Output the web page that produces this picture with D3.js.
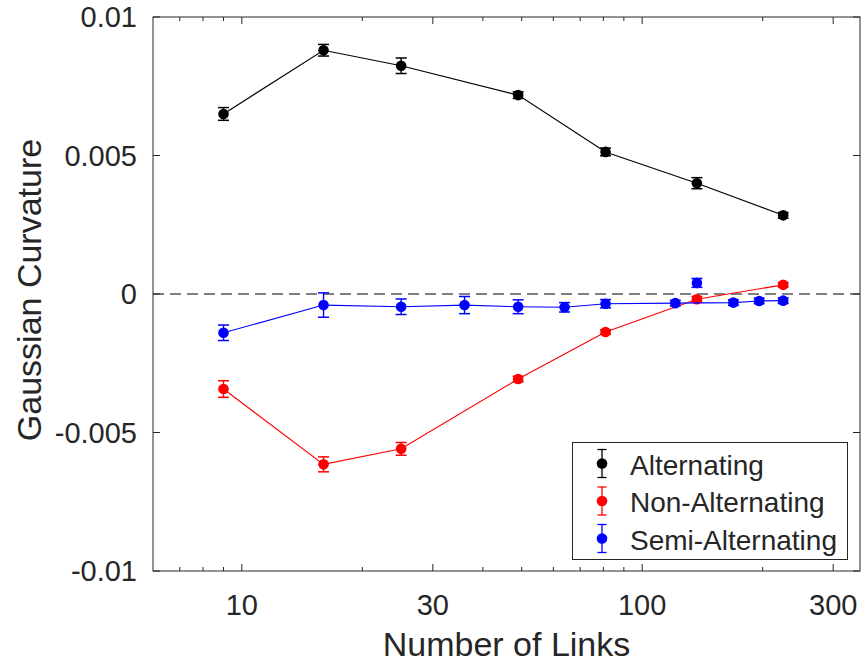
<!DOCTYPE html>
<html>
<head>
<meta charset="utf-8">
<script src="https://cdn.jsdelivr.net/npm/d3@7"></script>
<style>
  body { margin: 0; background: #fff; }
  text { font-family: "Liberation Sans", Arial, Helvetica, sans-serif; fill: #262626; }
</style>
</head>
<body>
<script>
// values
var linksA = [9, 16, 25, 49, 81, 137, 225];
var alt = [0.0065, 0.0088, 0.00824, 0.00718, 0.00513, 0.0040, 0.00284];
var altErr = [0.00023, 0.00021, 0.00028, 0.00012, 0.00014, 0.0002, 0.0001];
var nonAlt = [-0.00343, -0.00615, -0.00559, -0.00307, -0.00137, -0.00019, 0.00033];
var nonAltErr = [0.0003, 0.00027, 0.00023, 0.0001, 0.00008, 0.0001, 0.00008];
var linksS = [9, 16, 25, 36, 49, 64, 81, 121, 169, 196, 225];
var semi = [-0.0014, -0.0004, -0.00046, -0.0004, -0.00046, -0.00048, -0.00035, -0.00033, -0.00031, -0.00025, -0.00024];
var semiErr = [0.00028, 0.00044, 0.00028, 0.00031, 0.00025, 0.00017, 0.00015, 0.0001, 0.0001, 0.0001, 0.0001];
// lone semi-alternating point, not joined to the line
var linksSx = [137];
var semiX = [0.0004];
var semiXErr = [0.00016];

var xTicks = [10, 30, 100, 300];
var xMinor = [7, 8, 9, 20, 40, 50, 60, 70, 80, 90, 200];
var yTicks = [-0.01, -0.005, 0, 0.005, 0.01];
var yTickLabels = ["-0.01", "-0.005", "0", "0.005", "0.01"];
var names = ["Alternating", "Non-Alternating", "Semi-Alternating"];
var colors = ["#000000", "#ff0000", "#0000ff"];

var W = 861, H = 664;
var pL = 153, pR = 860, pT = 17, pB = 571;
var axisColor = "#262626";

var svg = d3.select("body").append("svg")
	.attr("width", W)
	.attr("height", H);

var x = d3.scaleLog().domain([6, 350]).range([pL, pR]);
var y = d3.scaleLinear().domain([-0.01, 0.01]).range([pB, pT]);

function zip(xs, ys, es) {
	return xs.map((v, i) => ({x: v, y: ys[i], e: es[i]}));
}
var series = [
	{pts: zip(linksA, alt, altErr), color: colors[0], line: true},
	{pts: zip(linksA, nonAlt, nonAltErr), color: colors[1], line: true},
	{pts: zip(linksS, semi, semiErr), color: colors[2], line: true},
	{pts: zip(linksSx, semiX, semiXErr), color: colors[2], line: false}
];

// zero line
svg.append("line")
	.attr("x1", pL).attr("x2", pR)
	.attr("y1", y(0)).attr("y2", y(0))
	.attr("stroke", "#808080")
	.attr("stroke-width", 2)
	.attr("stroke-dasharray", "11,6");

var line = d3.line().x(d => x(d.x)).y(d => y(d.y));
var cap = 5.5, mr = 5.3;

series.forEach(function(s) {
	var g = svg.append("g");
	if (s.line) {
		g.append("path")
			.datum(s.pts)
			.attr("d", line)
			.attr("fill", "none")
			.attr("stroke", s.color)
			.attr("stroke-width", 1.1);
	}
	var eb = g.selectAll("g.eb").data(s.pts).enter().append("g");
	eb.append("line")
		.attr("x1", d => x(d.x)).attr("x2", d => x(d.x))
		.attr("y1", d => y(d.y - d.e)).attr("y2", d => y(d.y + d.e))
		.attr("stroke", s.color).attr("stroke-width", 1.4);
	eb.append("line")
		.attr("x1", d => x(d.x) - cap).attr("x2", d => x(d.x) + cap)
		.attr("y1", d => y(d.y + d.e)).attr("y2", d => y(d.y + d.e))
		.attr("stroke", s.color).attr("stroke-width", 1.5);
	eb.append("line")
		.attr("x1", d => x(d.x) - cap).attr("x2", d => x(d.x) + cap)
		.attr("y1", d => y(d.y - d.e)).attr("y2", d => y(d.y - d.e))
		.attr("stroke", s.color).attr("stroke-width", 1.5);
	eb.append("circle")
		.attr("cx", d => x(d.x)).attr("cy", d => y(d.y))
		.attr("r", mr)
		.attr("fill", s.color);
});

// box
svg.append("rect")
	.attr("x", pL).attr("y", pT)
	.attr("width", pR - pL).attr("height", pB - pT)
	.attr("fill", "none")
	.attr("stroke", axisColor)
	.attr("stroke-width", 1);

// ticks, inward, on all four sides
var tk = svg.append("g").attr("stroke", axisColor).attr("stroke-width", 1);
xTicks.concat(xMinor).forEach(function(t) {
	var len = xTicks.indexOf(t) >= 0 ? 7 : 4;
	tk.append("line").attr("x1", x(t)).attr("x2", x(t)).attr("y1", pB).attr("y2", pB - len);
	tk.append("line").attr("x1", x(t)).attr("x2", x(t)).attr("y1", pT).attr("y2", pT + len);
});
yTicks.forEach(function(t) {
	tk.append("line").attr("x1", pL).attr("x2", pL + 7).attr("y1", y(t)).attr("y2", y(t));
	tk.append("line").attr("x1", pR).attr("x2", pR - 7).attr("y1", y(t)).attr("y2", y(t));
});

// tick labels
svg.selectAll("text.xt").data(xTicks).enter().append("text")
	.attr("x", d => x(d))
	.attr("y", 615)
	.attr("text-anchor", "middle")
	.attr("font-size", 29)
	.text(d => d);

svg.selectAll("text.yt").data(yTicks).enter().append("text")
	.attr("x", 137)
	.attr("y", d => y(d) + 10)
	.attr("text-anchor", "end")
	.attr("font-size", 29)
	.text((d, i) => yTickLabels[i]);

// axis labels
svg.append("text")
	.attr("x", (pL + pR) / 2)
	.attr("y", 656)
	.attr("text-anchor", "middle")
	.attr("font-size", 34)
	.text("Number of Links");

svg.append("text")
	.attr("transform", "translate(41," + ((pT + pB) / 2 - 4) + ") rotate(-90)")
	.attr("text-anchor", "middle")
	.attr("font-size", 34)
	.text("Gaussian Curvature");

// legend
var lg = svg.append("g");
lg.append("rect")
	.attr("x", 572.5).attr("y", 442.5)
	.attr("width", 275).attr("height", 117)
	.attr("fill", "#fff")
	.attr("stroke", axisColor)
	.attr("stroke-width", 1);

names.forEach(function(n, i) {
	var cy = 463.5 + i * 37.5, cx = 602;
	var c = colors[i];
	lg.append("line").attr("x1", cx).attr("x2", cx).attr("y1", cy - 14).attr("y2", cy + 14).attr("stroke", c).attr("stroke-width", 1.3);
	lg.append("line").attr("x1", cx - 4.5).attr("x2", cx + 4.5).attr("y1", cy - 14).attr("y2", cy - 14).attr("stroke", c).attr("stroke-width", 1.3);
	lg.append("line").attr("x1", cx - 4.5).attr("x2", cx + 4.5).attr("y1", cy + 14).attr("y2", cy + 14).attr("stroke", c).attr("stroke-width", 1.3);
	lg.append("circle").attr("cx", cx).attr("cy", cy).attr("r", mr).attr("fill", c);
	lg.append("text")
		.attr("x", 630)
		.attr("y", cy + 11)
		.attr("font-size", 28)
		.text(n);
});
</script>
</body>
</html>
